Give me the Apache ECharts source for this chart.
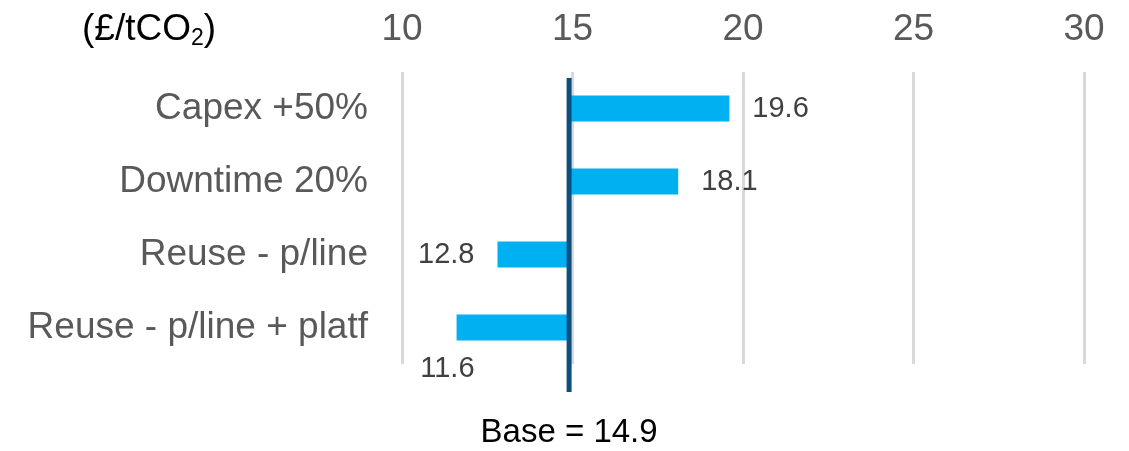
<!DOCTYPE html>
<html>
<head>
<meta charset="utf-8">
<script src="https://cdn.jsdelivr.net/npm/echarts@6/dist/echarts.min.js"></script>
<style>
html,body{margin:0;padding:0;background:#fff;}
#chart{width:1129px;height:451px;}
</style>
</head>
<body>
<div id="chart"></div>
<script>
// ---- data ----
var categories = ['Capex +50%', 'Downtime 20%', 'Reuse - p/line', 'Reuse - p/line + platf'];
var values = [19.6, 18.1, 12.8, 11.6];
var baseValue = 14.9;
var xTicks = [10, 15, 20, 25, 30];

var FONT = 'Liberation Sans, Arial, sans-serif';

var offsetData = values.map(function (v) { return Math.min(v, baseValue); });
var deltaData = values.map(function (v, i) {
  var item = { value: Math.abs(v - baseValue) };
  if (v >= baseValue) {
    item.label = { position: 'right', distance: 23 };
  } else if (i === values.length - 1) {
    item.label = { position: [18, 54], align: 'right', verticalAlign: 'middle' };
  } else {
    item.label = { position: 'left', distance: 23 };
  }
  return item;
});

var chart = echarts.init(document.getElementById('chart'), null, { renderer: 'canvas' });
chart.setOption({
  animation: false,
  backgroundColor: '#ffffff',
  title: {
    left: 82,
    top: 10,
    padding: 0,
    text: '{a|(£/tCO}{b|2}{a|)}',
    textStyle: {
      fontWeight: 'normal',
      rich: {
        a: { fontSize: 37, fontFamily: FONT, fontWeight: 'normal', color: '#000000', lineHeight: 40 },
        b: { fontSize: 23, fontFamily: FONT, fontWeight: 'normal', color: '#000000', lineHeight: 10, verticalAlign: 'bottom' }
      }
    }
  },
  grid: [
    { left: 402, right: 45, top: 72, bottom: 87 },
    { left: 402, right: 45, top: 78, bottom: 59 }
  ],
  xAxis: [
    {
      gridIndex: 0,
      type: 'value',
      position: 'top',
      min: xTicks[0],
      max: xTicks[xTicks.length - 1],
      interval: xTicks[1] - xTicks[0],
      axisLine: { show: false },
      axisTick: { show: false },
      axisLabel: { fontSize: 37, fontFamily: FONT, color: '#595959', margin: 24 },
      splitLine: { show: true, lineStyle: { color: '#d9d9d9', width: 3 } }
    },
    {
      gridIndex: 1,
      type: 'value',
      min: xTicks[0],
      max: xTicks[xTicks.length - 1],
      show: false
    }
  ],
  yAxis: [
    {
      gridIndex: 0,
      type: 'category',
      inverse: true,
      data: categories,
      axisLine: { show: false },
      axisTick: { show: false },
      axisLabel: { fontSize: 37, fontFamily: FONT, color: '#595959', margin: 34 },
      splitLine: { show: false }
    },
    {
      gridIndex: 1,
      type: 'value',
      min: 0,
      max: 1,
      show: false
    }
  ],
  series: [
    {
      type: 'bar',
      name: 'offset',
      xAxisIndex: 0,
      yAxisIndex: 0,
      stack: 'tornado',
      data: offsetData,
      barWidth: 26,
      itemStyle: { color: 'rgba(0,0,0,0)' },
      silent: true,
      label: { show: false }
    },
    {
      type: 'bar',
      name: 'delta',
      xAxisIndex: 0,
      yAxisIndex: 0,
      stack: 'tornado',
      data: deltaData,
      barWidth: 26,
      itemStyle: { color: '#00b0f0' },
      label: {
        show: true,
        fontSize: 29,
        fontFamily: FONT,
        color: '#404040',
        formatter: function (p) { return values[p.dataIndex].toFixed(1); }
      }
    },
    {
      type: 'line',
      name: 'base',
      xAxisIndex: 1,
      yAxisIndex: 1,
      data: [[baseValue, 0], [baseValue, 1]],
      symbol: 'circle',
      symbolSize: 0,
      showSymbol: true,
      lineStyle: { color: '#0b4f7f', width: 5, cap: 'butt' },
      label: {
        show: true,
        position: 'bottom',
        distance: 24,
        fontSize: 33,
        fontFamily: FONT,
        color: '#000000',
        formatter: function (p) { return p.dataIndex === 0 ? 'Base = ' + baseValue.toFixed(1) : ''; }
      }
    }
  ]
});
</script>
</body>
</html>
